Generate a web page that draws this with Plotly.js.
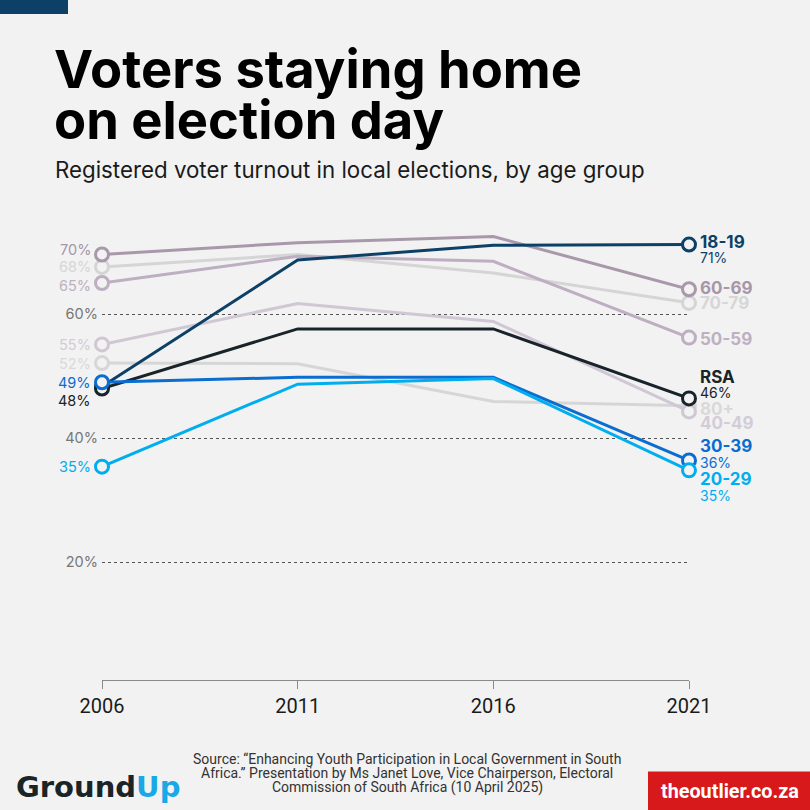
<!DOCTYPE html>
<html>
<head>
<meta charset="utf-8">
<script src="https://cdn.plot.ly/plotly-3.0.1.min.js"></script>
<style>
  html, body { margin:0; padding:0; background:#f2f2f2; }
  #chart { width:810px; height:810px; }
</style>
</head>
<body>
<div id="chart"></div>
<script>
// ---------------- DATA ----------------
const years = [2006, 2011, 2016, 2021];
const yearLabels = ['2006', '2011', '2016', '2021'];

const turnout18to19 = [48.3, 68.7, 71.1, 71.2];
const turnout20to29 = [35.4, 48.7, 49.6, 34.8];
const turnout30to39 = [49.0, 49.8, 49.8, 36.4];
const turnout40to49 = [55.1, 61.7, 58.8, 44.3];
const turnout50to59 = [65.0, 69.3, 68.5, 56.2];
const turnout60to69 = [69.6, 71.5, 72.5, 64.0];
const turnout70to79 = [67.6, 69.6, 66.6, 61.8];
const turnout80plus = [52.1, 52.0, 45.9, 45.2];
const turnoutRSA    = [48.0, 57.6, 57.6, 46.4];

const gridValues = [20, 40, 60];
const gridLabels = ['20%', '40%', '60%'];

const sourceLines = [
  'Source: \u201cEnhancing Youth Participation in Local Government in South',
  'Africa.\u201d Presentation by Ms Janet Love, Vice Chairperson, Electoral',
  'Commission of South Africa (10 April 2025)'
];

// ---------------- STYLE CONFIG ----------------
// drawn bottom -> top; nameDy/valueDy = label nudges in px (positive = up)
const series = [
  {name:'80+',   values:turnout80plus, color:'#d6d6d6', lab:'#d9d9d9', nameDy:-3.2, valueDy:null, leftDy:0,   showLeft:true},
  {name:'70-79', values:turnout70to79, color:'#d5d5d5', lab:'#d6d6d6', nameDy:-0.6, valueDy:null, leftDy:0,   showLeft:true},
  {name:'40-49', values:turnout40to49, color:'#d0c7d5', lab:'#d3ccd7', nameDy:-11.6,valueDy:null, leftDy:0,   showLeft:true},
  {name:'50-59', values:turnout50to59, color:'#bdafc1', lab:'#bdb0c1', nameDy:-1.2, valueDy:null, leftDy:-2,  showLeft:true},
  {name:'60-69', values:turnout60to69, color:'#a898aa', lab:'#a696a8', nameDy:1.7,  valueDy:null, leftDy:5,   showLeft:true},
  {name:'18-19', values:turnout18to19, color:'#0d4066', lab:'#0d4066', nameDy:2.6,  valueDy:-12.9,leftDy:0,   showLeft:false},
  {name:'RSA',   values:turnoutRSA,    color:'#18242a', lab:'#18242a', nameDy:21.4, valueDy:5.9,  leftDy:-12, showLeft:true},
  {name:'30-39', values:turnout30to39, color:'#0a6dcf', lab:'#0a6dcf', nameDy:14.1, valueDy:-1.6, leftDy:0,   showLeft:true},
  {name:'20-29', values:turnout20to29, color:'#00adef', lab:'#00adef', nameDy:-9.1, valueDy:-25.1,leftDy:0,   showLeft:true}
];

const BG = '#f2f2f2';
const W = 810, H = 810;
const M = {l:102, r:121, t:221, b:130};
const plotW = W - M.l - M.r, plotH = H - M.t - M.b;
const px = x => (x - M.l) / plotW;
const py = y => (H - M.b - y) / plotH;

// ---------------- TRACES ----------------
const traces = [];
series.forEach(s => {
  traces.push({
    x: years, y: s.values, type:'scatter', mode:'lines',
    line:{color:s.color, width:3}, cliponaxis:false, hoverinfo:'skip'
  });
  traces.push({
    x: [years[0], years[years.length-1]],
    y: [s.values[0], s.values[s.values.length-1]],
    type:'scatter', mode:'markers', cliponaxis:false, hoverinfo:'skip',
    marker:{symbol:'circle', size:13, color:BG, line:{color:s.color, width:3}}
  });
});

// ---------------- ANNOTATIONS ----------------
const ann = [];
series.forEach(s => {
  const last = s.values[s.values.length-1];
  ann.push({
    x: years[years.length-1], y: last, xref:'x', yref:'y',
    text: '<b>' + s.name + '</b>', showarrow:false, xanchor:'left', yanchor:'middle',
    xshift: 9, yshift: s.nameDy,
    font:{family:'Inter', size:17, color:s.lab}
  });
  if (s.valueDy !== null) {
    ann.push({
      x: years[years.length-1], y: last, xref:'x', yref:'y',
      text: Math.round(last) + '%', showarrow:false, xanchor:'left', yanchor:'middle',
      xshift: 9, yshift: s.valueDy,
      font:{family:'Inter', size:14, color:s.lab}
    });
  }
  if (s.showLeft) {
    ann.push({
      x: years[0], y: s.values[0], xref:'x', yref:'y',
      text: Math.round(s.values[0]) + '%', showarrow:false,
      xanchor:'right', yanchor:'middle', xshift:-9, yshift:s.leftDy,
      font:{family:'Inter', size:14.5, color:s.lab}
    });
  }
});

// titles
ann.push({xref:'paper', yref:'paper', x:px(52), y:py(69), xanchor:'left', yanchor:'middle',
  text:'<b>Voters staying home</b>', showarrow:false,
  font:{family:'Inter', size:52.5, color:'#000'}});
ann.push({xref:'paper', yref:'paper', x:px(52), y:py(120), xanchor:'left', yanchor:'middle',
  text:'<b>on election day</b>', showarrow:false,
  font:{family:'Inter', size:52.5, color:'#000'}});
ann.push({xref:'paper', yref:'paper', x:px(53), y:py(170), xanchor:'left', yanchor:'middle',
  text:'Registered voter turnout in local elections, by age group', showarrow:false,
  font:{family:'Inter', size:22.3, color:'#1a1a1a'}});

// source lines
const sourceY = [758.7, 773.2, 787.7];
sourceLines.forEach((t, i) => {
  ann.push({xref:'paper', yref:'paper', x:px(407), y:py(sourceY[i]), xanchor:'center', yanchor:'middle',
    text:t, showarrow:false,
    font:{family:'Roboto', size:14, color:'#333'}});
});

// logos
ann.push({xref:'paper', yref:'paper', x:px(14), y:py(787), xanchor:'left', yanchor:'middle',
  text:'<b>Ground</b><b><span style="color:#19a9e6">Up</span></b>', showarrow:false,
  font:{family:'DejaVu Sans', size:29, color:'#1a2326'}});
ann.push({xref:'paper', yref:'paper', x:px(729.5), y:py(791), xanchor:'center', yanchor:'middle',
  text:'<b>theoutlier.co.za</b>', showarrow:false,
  font:{family:'Roboto', size:19.8, color:'#ffffff'}});

// ---------------- SHAPES ----------------
const shapes = [
  {type:'rect', xref:'paper', yref:'paper', x0:px(0), x1:px(68), y0:py(0), y1:py(14),
   fillcolor:'#0d4066', line:{width:0}, layer:'above'},
  {type:'rect', xref:'paper', yref:'paper', x0:px(648), x1:px(811), y0:py(771.5), y1:py(811),
   fillcolor:'#d7191c', line:{width:0}, layer:'below'}
];

const layout = {
  width:W, height:H,
  paper_bgcolor:BG, plot_bgcolor:BG,
  margin:{l:M.l, r:M.r, t:M.t, b:M.b, pad:0},
  showlegend:false,
  xaxis:{
    range:[2006, 2021], tickvals:years, ticktext:yearLabels,
    showgrid:false, zeroline:false, showline:true, linecolor:'#8a8a8a', linewidth:1,
    ticks:'outside', ticklen:8, tickcolor:'#8a8a8a', tickwidth:1,
    tickfont:{family:'Roboto', size:20, color:'#1a1a1a'}, fixedrange:true
  },
  yaxis:{
    range:[1, 75], tickvals:gridValues, ticktext:gridLabels,
    showgrid:true, gridcolor:'#555', gridwidth:1, griddash:'3px,3px',
    zeroline:false, showline:false, ticks:'', ticklabelstandoff:3,
    tickfont:{family:'Inter', size:14.5, color:'#777'}, fixedrange:true
  },
  annotations:ann,
  shapes:shapes
};

Plotly.newPlot('chart', traces, layout, {staticPlot:true, displayModeBar:false});
</script>
</body>
</html>
